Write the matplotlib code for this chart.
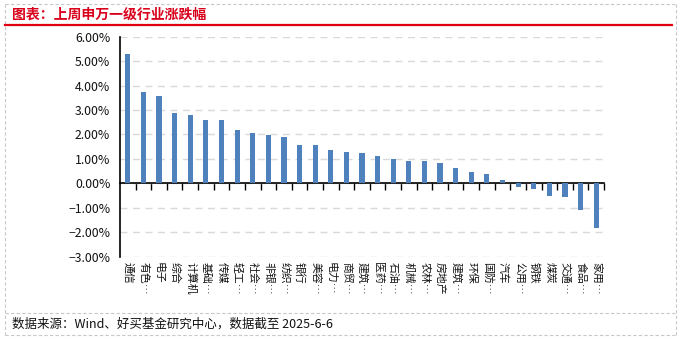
import matplotlib
matplotlib.use("Agg")
import matplotlib.pyplot as plt
from matplotlib.lines import Line2D
from matplotlib.ticker import FixedLocator, PercentFormatter

plt.rcParams['font.family'] = ['Noto Sans CJK SC', 'DejaVu Sans']

# 申万一级行业上周涨跌幅 (%)
industries = ['通信', '有色…', '电子', '综合', '计算机', '基础…', '传媒', '轻工…',
              '社会…', '非银…', '纺织…', '银行', '美容…', '电力…', '商贸…', '建筑…',
              '医药…', '石油…', '机械…', '农林…', '房地产', '建筑…', '环保', '国防…',
              '汽车', '公用…', '钢铁', '煤炭', '交通…', '食品…', '家用…']
changes = [5.29, 3.74, 3.57, 2.88, 2.80, 2.59, 2.59, 2.18,
           2.06, 1.98, 1.90, 1.57, 1.57, 1.36, 1.28, 1.24,
           1.12, 1.00, 0.91, 0.91, 0.83, 0.63, 0.46, 0.38,
           0.13, -0.16, -0.23, -0.52, -0.56, -1.09, -1.83]
y_ticks = [-3, -2, -1, 0, 1, 2, 3, 4, 5, 6]

title = '图表：上周申万一级行业涨跌幅'
source = '数据来源：Wind、好买基金研究中心，数据截至 2025-6-6'

W, H = 680, 342
fig = plt.figure(figsize=(W / 100, H / 100), dpi=100)


def fx(px):
    return px / W


def fy(py):
    return 1 - py / H


# outer dashed frame, title rule and footer separator
frame_kw = dict(color='#C8C8C8', lw=0.8, ls=(0, (3, 2)), transform=fig.transFigure)
fig.add_artist(Line2D([fx(5), fx(676)], [fy(4), fy(4)], **frame_kw))
fig.add_artist(Line2D([fx(5), fx(676)], [fy(335), fy(335)], **frame_kw))
fig.add_artist(Line2D([fx(5), fx(5)], [fy(4), fy(335)], **frame_kw))
fig.add_artist(Line2D([fx(676), fx(676)], [fy(4), fy(335)], **frame_kw))
fig.add_artist(Line2D([fx(5), fx(676)], [fy(312.5), fy(312.5)], **frame_kw))
fig.add_artist(Line2D([fx(5), fx(672)], [fy(25), fy(25)], color='#E00012', lw=1.6,
                      transform=fig.transFigure))

fig.text(fx(12), fy(15), title, color='#D9001B', fontsize=10, fontweight='bold',
         ha='left', va='center')
fig.text(fx(12), fy(324), source, color='#111111', fontsize=9,
         ha='left', va='center')

ax = fig.add_axes([fx(120), fy(256.7), fx(604) - fx(120), fy(36.7) - fy(256.7)])
x = list(range(len(industries)))
ax.bar(x, changes, width=0.33, color='#4F81BD', zorder=3)

ax.set_xlim(-0.5, len(industries) - 0.5)
ax.set_ylim(-3, 6)
ax.yaxis.set_major_locator(FixedLocator(y_ticks))
ax.yaxis.set_major_formatter(PercentFormatter(decimals=2))
ax.tick_params(axis='y', length=0, pad=7, labelsize=8.8, labelcolor='#111111')
ax.grid(axis='y', color='#D9D9D9', lw=1.0, ls=(0, (5, 4)), zorder=0)

for side in ('top', 'right'):
    ax.spines[side].set_visible(False)
ax.spines['left'].set_color('black')
ax.spines['left'].set_linewidth(1.2)
ax.spines['bottom'].set_position(('data', 0))
ax.spines['bottom'].set_color('black')
ax.spines['bottom'].set_linewidth(1.2)

ax.set_xticks([i + 0.5 for i in x])
ax.set_xticklabels([])
ax.tick_params(axis='x', direction='out', length=5, width=1.0, color='black')

for i, name in enumerate(industries):
    ax.annotate(name, xy=(i, -3), xycoords='data', xytext=(0, -4),
                textcoords='offset points', rotation=-90, ha='center', va='top',
                fontsize=7.8, color='#111111', annotation_clip=False)

fig.savefig('out.png', dpi=100)
